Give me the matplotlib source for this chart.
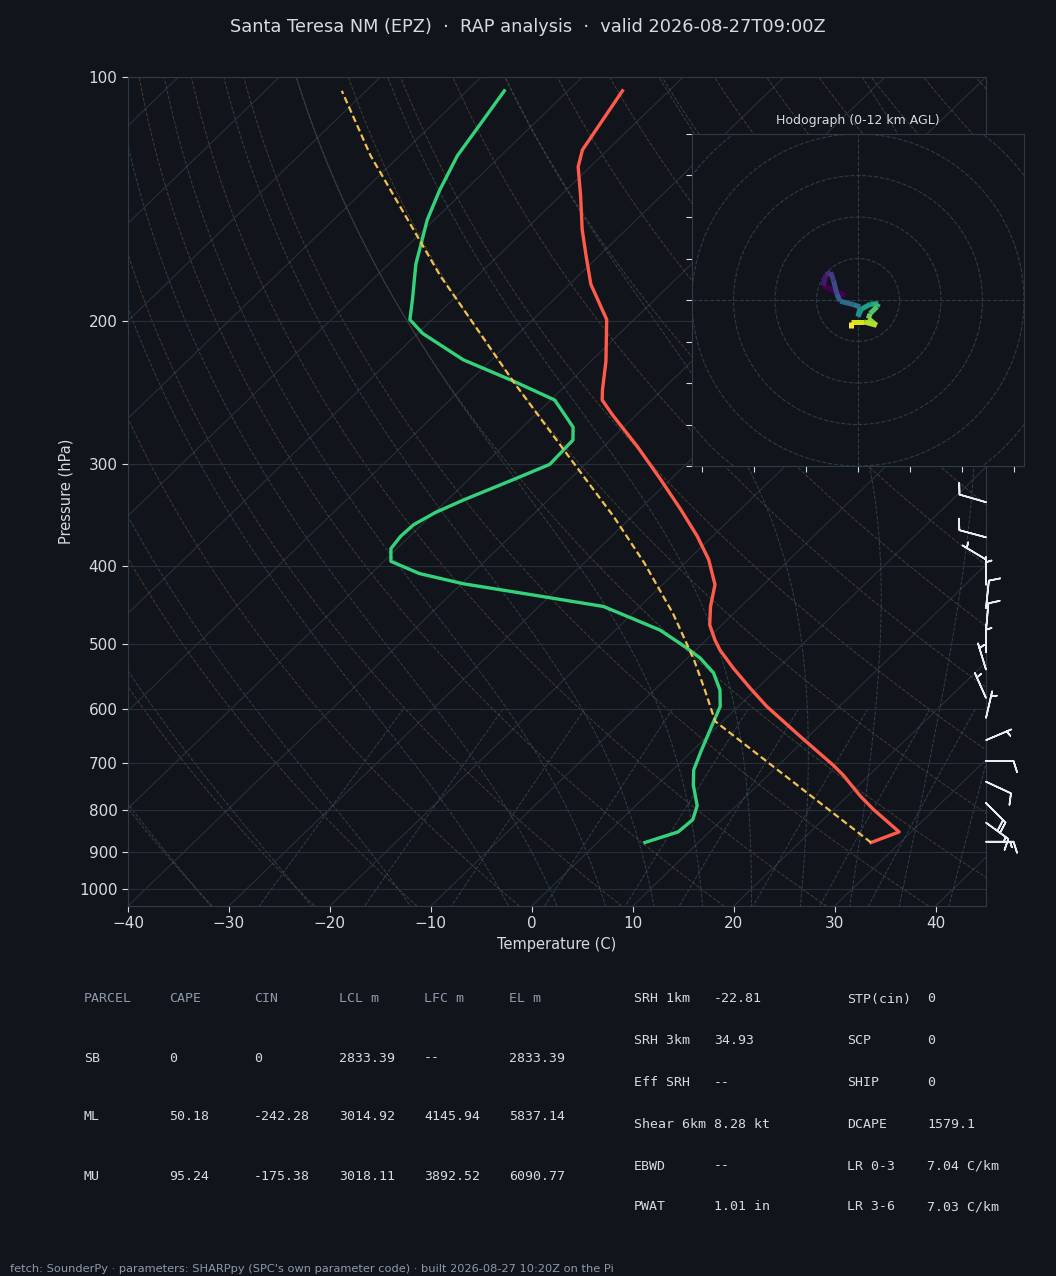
import numpy as np
import matplotlib
matplotlib.use("Agg")
import matplotlib.pyplot as plt
import matplotlib.transforms as mtransforms
from matplotlib.collections import LineCollection
from matplotlib.ticker import FixedLocator, NullLocator, FuncFormatter

BG = "#11151b"
FG = "#d5dbe3"
MUTED = "#8d9aab"
GRID = "#27303a"
EDGE = "#2f3a47"

title = "Santa Teresa NM (EPZ)  ·  RAP analysis  ·  valid 2026-08-27T09:00Z"

# sounding, surface upward (hPa, C)
temp_p = [877, 851, 799, 769, 724, 704, 649, 596, 566, 535, 508, 494, 473, 449, 422, 393,
          368, 341, 313, 285, 261, 250, 243, 224, 199, 180, 166, 154, 140, 129, 123, 104]
temp_c = [27.1, 28.8, 24.0, 21.3, 17.4, 15.4, 9.2, 2.8, -0.7, -4.4, -7.6, -9.1, -11.2, -13.0, -14.8, -18.0,
          -21.5, -25.9, -31.0, -36.7, -42.3, -44.9, -45.9, -48.5, -52.7, -57.9, -61.3, -64.4, -68.0, -71.2, -72.5, -74.6]

dewp_p = [877, 851, 822, 790, 745, 714, 677, 622, 596, 569, 542, 520, 505, 480, 449, 434, 421, 409, 395, 381,
          368, 356, 344, 332, 313, 300, 280, 270, 250, 237, 223, 207, 199, 188, 170, 150, 138, 125, 115, 104]
dewp_c = [4.7, 6.9, 7.1, 6.1, 3.6, 2.1, 0.9, -0.9, -1.8, -3.5, -5.9, -8.7, -11.1, -15.6, -23.6, -32.1, -39.8, -45.2, -49.3, -50.6,
          -50.9, -50.8, -49.9, -48.4, -45.5, -43.5, -43.7, -45.0, -49.6, -55.6, -62.8, -69.5, -72.2, -74.0, -77.3, -80.7, -82.5, -84.3, -85.2, -86.3]

parcel_p = [877, 622, 569, 522, 458, 397, 348, 294, 238, 188, 176, 125, 104]
parcel_c = [27.1, -0.75, -5.0, -9.2, -16.0, -24.0, -31.8, -42.3, -55.4, -69.6, -73.6, -92.9, -102.4]

# wind barbs (hPa, direction from, kt)
barb_p = [875, 829, 784, 738, 696, 656, 616, 582, 537, 511, 481, 451, 422, 393, 369, 334]
barb_dir = [90, 126, 135, 115, 90, 67, 13, 336, 343, 0, 5, 6, 0, 301, 285, 286]
barb_kt = [15, 15, 20, 10, 10, 5, 5, 5, 5, 5, 10, 10, 5, 5, 10, 10]

# hodograph trace
hodo_u = [-3.1, -8.4, -7.7, -6.6, -5.9, -5.1, -4.3, -1.1, 0.5, 0.0, 0.8, 3.0, 4.9, 4.6, 2.9, 2.5, 4.5, 1.5, -1.8, -1.8]
hodo_v = [1.1, 3.4, 6.1, 6.7, 4.7, 1.5, -0.3, -1.1, -1.7, -4.0, -2.2, -1.0, -0.9, -1.6, -3.3, -4.5, -6.1, -5.3, -5.3, -6.7]

parcel_head = ["PARCEL", "CAPE", "CIN", "LCL m", "LFC m", "EL m"]
parcel_rows = [
    ["SB", "0", "0", "2833.39", "--", "2833.39"],
    ["ML", "50.18", "-242.28", "3014.92", "4145.94", "5837.14"],
    ["MU", "95.24", "-175.38", "3018.11", "3892.52", "6090.77"],
]
idx_left = [("SRH 1km", "-22.81"), ("SRH 3km", "34.93"), ("Eff SRH", "--"),
            ("Shear 6km", "8.28 kt"), ("EBWD", "--"), ("PWAT", "1.01 in")]
idx_right = [("STP(cin)", "0"), ("SCP", "0"), ("SHIP", "0"),
             ("DCAPE", "1579.1"), ("LR 0-3", "7.04 C/km"), ("LR 3-6", "7.03 C/km")]

footer = ("fetch: SounderPy \u00b7 parameters: SHARPpy (SPC's own parameter code) \u00b7 "
          "built 2026-08-27 10:20Z on the Pi")

W, H = 1056, 1276


def fx(x):
    return x / W


def fy(y):
    return 1 - y / H


def dtdp(t, p):
    es = 6.112 * np.exp(17.67 * (t - 273.15) / (t - 29.65))
    rs = 0.622 * es / (p - es)
    return (287.04 * t + 2.501e6 * rs) / (p * (1005.7 + 2.501e6 ** 2 * rs * 0.622 / (287.04 * t ** 2)))


def moist_adiabat(t0, plev):
    t = [t0 + 273.15]
    for p1, p2 in zip(plev[:-1], plev[1:]):
        k1 = dtdp(t[-1], p1)
        k2 = dtdp(t[-1] + k1 * (p2 - p1), p2)
        t.append(t[-1] + 0.5 * (k1 + k2) * (p2 - p1))
    return np.array(t) - 273.15


fig = plt.figure(figsize=(W / 100, H / 100), dpi=100, facecolor=BG)
ax = fig.add_axes([fx(128), fy(906), fx(858), 829 / H], facecolor=BG)
ax.set_yscale("log")
ax.set_xlim(-40, 45)
ax.set_ylim(1050, 100)
skew = ax.transScale + ax.transLimits + mtransforms.Affine2D().skew_deg(45, 0) + ax.transAxes

# background lines
for t in range(-120, 50, 10):
    ax.plot([t, t], [1050, 100], transform=skew, color=GRID, lw=0.8, zorder=1)
p_all = np.logspace(np.log10(1050), 2, 120)
for t0 in np.arange(-45, 246, 10):
    ax.plot((t0 + 273.15) * (p_all / 1000) ** 0.2857 - 273.15, p_all, transform=skew,
            color="#6e5a44", lw=0.7, ls="--", alpha=0.55, zorder=1)
p_up = np.linspace(1000, 100, 200)
p_dn = np.linspace(1000, 1050, 10)
for t0 in np.concatenate((np.arange(-45, 0, 10), np.arange(0, 96, 5))):
    ax.plot(moist_adiabat(t0, p_up), p_up, transform=skew, color="#3c5064", lw=0.7, ls="--", alpha=0.7, zorder=1)
    ax.plot(moist_adiabat(t0, p_dn), p_dn, transform=skew, color="#3c5064", lw=0.7, ls="--", alpha=0.7, zorder=1)
p_mix = np.linspace(600, 1050, 30)
for w in [0.0004, 0.001, 0.002, 0.004, 0.007, 0.01, 0.016, 0.024, 0.032]:
    lne = np.log(w * p_mix / (0.622 + w) / 6.112)
    ax.plot(243.5 * lne / (17.67 - lne), p_mix, transform=skew, color="#3c5064", lw=0.7, ls="--",
            alpha=0.7, zorder=1)

ax.plot(temp_c, temp_p, transform=skew, color="#ff5b4b", lw=2.4, zorder=5)
ax.plot(dewp_c, dewp_p, transform=skew, color="#34d27b", lw=2.4, zorder=5)
ax.plot(parcel_c, parcel_p, transform=skew, color="#f2c14e", lw=1.6, ls=(0, (3, 1.6)), zorder=5)

ax.set_xlim(-40, 45)
ax.set_ylim(1050, 100)
ax.yaxis.set_major_locator(FixedLocator(list(range(100, 1001, 100))))
ax.yaxis.set_major_formatter(FuncFormatter(lambda v, _: f"{v:.0f}"))
ax.yaxis.set_minor_locator(NullLocator())
ax.set_xticks(range(-40, 41, 10))
ax.grid(axis="y", color=GRID, lw=0.8)
ax.tick_params(colors=FG, labelsize=11, length=4, width=0.8)
for s in ax.spines.values():
    s.set_color(EDGE)
ax.set_ylabel("Pressure (hPa)", color=FG, fontsize=10.5)
ax.set_xlabel("Temperature (C)", color=FG, fontsize=10.5)

rad = np.deg2rad(barb_dir)
bu = -np.array(barb_kt) * np.sin(rad)
bv = -np.array(barb_kt) * np.cos(rad)
bt = mtransforms.blended_transform_factory(ax.transAxes, ax.transData)
ax.barbs(np.ones(len(barb_p)), barb_p, bu, bv, transform=bt, clip_on=False,
         color="#e8edf3", linewidth=1.2, length=6.3, zorder=6)

# hodograph
hx = fig.add_axes([fx(692), fy(466), fx(332), 332 / H], facecolor=BG)
hx.set_xlim(-40, 40)
hx.set_ylim(-40, 40)
for r in range(10, 60, 10):
    hx.add_patch(plt.Circle((0, 0), r, fill=False, ls="--", color=EDGE, lw=0.8))
hx.axhline(0, color=EDGE, ls="--", lw=0.8)
hx.axvline(0, color=EDGE, ls="--", lw=0.8)
pts = np.column_stack([hodo_u, hodo_v])
segs = np.stack([pts[:-1], pts[1:]], axis=1)
lc = LineCollection(segs, cmap="viridis", lw=3.6)
lc.set_array(np.arange(len(segs)))
hx.add_collection(lc)
hx.set_xticks([-37.5, -25, -12.5, 0, 12.5, 25, 37.5])
hx.set_yticks(range(-40, 41, 10))
hx.tick_params(labelbottom=False, labelleft=False, colors=FG, length=4, width=0.8)
for s in hx.spines.values():
    s.set_color(EDGE)
hx.set_title("Hodograph (0-12 km AGL)", color=FG, fontsize=9, pad=7)

# title and tables
fig.text(0.5, fy(27), title, ha="center", va="center", fontsize=12.8, color=FG)
mono = "DejaVu Sans Mono"
cols = [84, 169, 254, 339, 424, 509]
for x, s in zip(cols, parcel_head):
    fig.text(fx(x), fy(999), s, va="center", family=mono, fontsize=9.5, color=MUTED)
for y, row in zip([1058, 1117, 1176], parcel_rows):
    for x, s in zip(cols, row):
        fig.text(fx(x), fy(y), s, va="center", family=mono, fontsize=9.5, color=FG)
for y, (a, b), (c, d) in zip([999, 1041, 1083, 1124, 1166, 1207], idx_left, idx_right):
    fig.text(fx(634), fy(y), a, va="center", family=mono, fontsize=9.5, color=FG)
    fig.text(fx(714), fy(y), b, va="center", family=mono, fontsize=9.5, color=FG)
    fig.text(fx(847), fy(y), c, va="center", family=mono, fontsize=9.5, color=FG)
    fig.text(fx(927), fy(y), d, va="center", family=mono, fontsize=9.5, color=FG)
fig.text(fx(10), fy(1269), footer, va="center", fontsize=8.2, color=MUTED)

fig.savefig("out.png", dpi=100, facecolor=BG)
